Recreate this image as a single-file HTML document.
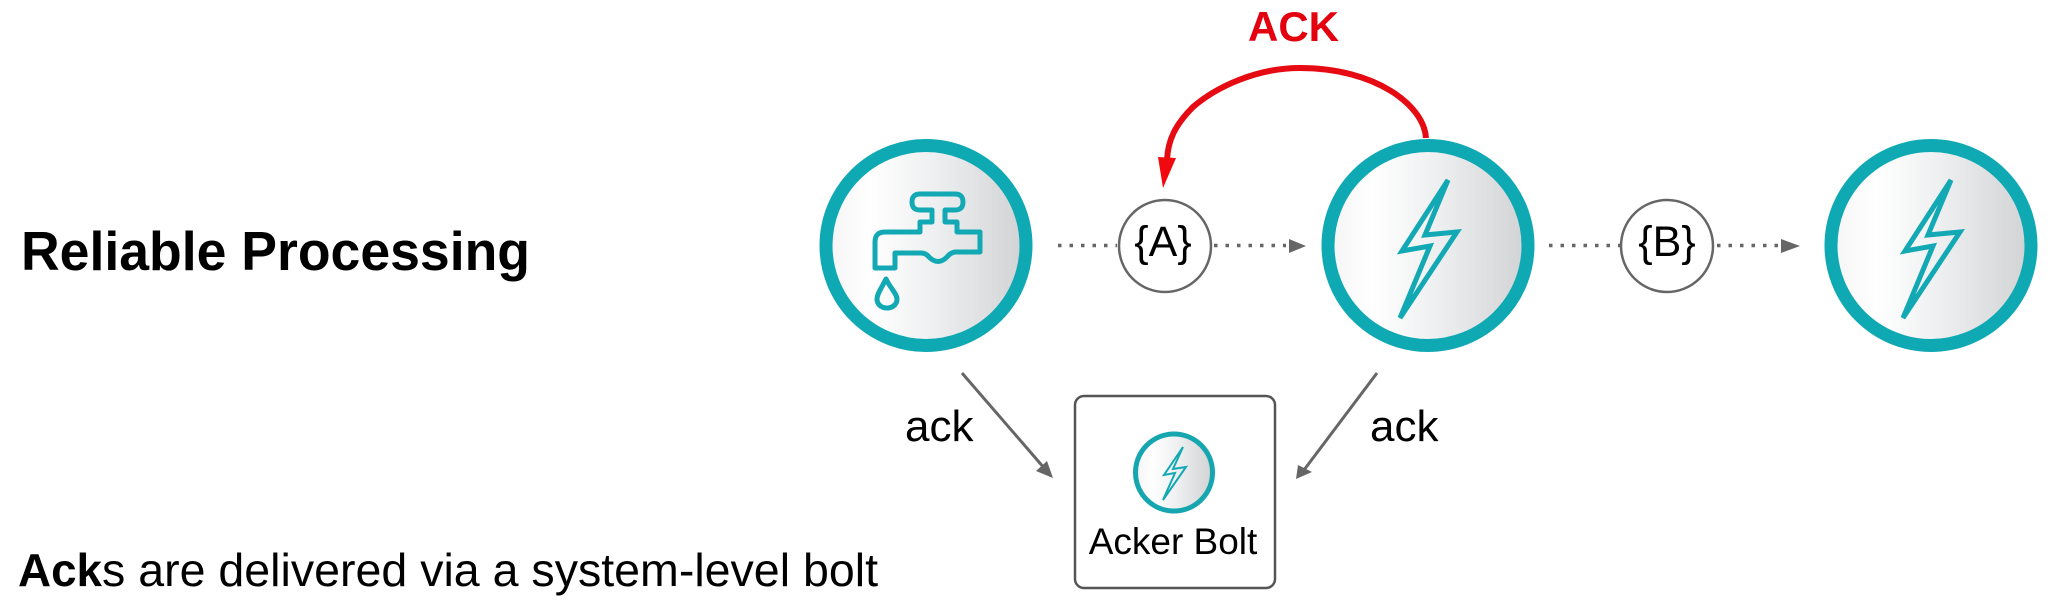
<!DOCTYPE html>
<html><head><meta charset="utf-8">
<style>
html,body{margin:0;padding:0;background:#fff;width:2048px;height:612px;overflow:hidden}
svg{display:block}
text{font-family:"Liberation Sans",sans-serif;fill:#000}
</style></head>
<body>
<svg width="2048" height="612" viewBox="0 0 2048 612" xmlns="http://www.w3.org/2000/svg">
<defs>
<linearGradient id="g" x1="0" y1="0" x2="1" y2="0">
<stop offset="0" stop-color="#f4f4f5"/><stop offset=".22" stop-color="#ffffff"/><stop offset=".55" stop-color="#eeeff0"/><stop offset="1" stop-color="#d0d2d4"/>
</linearGradient>
<g id="bolt"><path d="M20-65.5L-26 5.5L2 .5L-28 72.5L29-13.5L-3-10.5Z" fill="none" stroke="#12a9b5" stroke-width="5" stroke-linejoin="miter" stroke-miterlimit="3"/></g>
<g id="node"><circle r="99.5" fill="url(#g)" stroke="#777" stroke-width="1.5"/><circle r="100" fill="none" stroke="#0fa9b4" stroke-width="13"/></g>
</defs>
<rect width="2048" height="612" fill="#fff"/>

<text x="21" y="270" font-size="55" font-weight="700" textLength="509" lengthAdjust="spacingAndGlyphs">Reliable Processing</text>
<text x="18" y="586" font-size="46" font-weight="700" textLength="84" lengthAdjust="spacingAndGlyphs">Ack</text>
<text x="102" y="586" font-size="46" textLength="776" lengthAdjust="spacingAndGlyphs">s are delivered via a system-level bolt</text>

<g transform="translate(926 245.5)"><use href="#node"/></g>
<g fill="none" stroke="#12a9b5" stroke-width="5" stroke-linejoin="round">
<path d="M920 232V222H932V210H920Q912 210 912 202Q912 194 920 194H955Q963 194 963 202Q963 210 955 210H945V222H957V232H980V252H955Q950 253 947 257Q938 266 929 257Q926 253 921 253H895V268H875V242Q875 232 885 232Z"/>
<path d="M886 279C881 289 877 294 877 299C877 304 881 308 887 308C893 308 897 304 897 299C897 294 891 289 886 279Z"/>
</g>

<g transform="translate(1428 245.5)"><use href="#node"/><use href="#bolt"/></g>
<g transform="translate(1931 245.5)"><use href="#node"/><use href="#bolt"/></g>

<circle cx="1165" cy="246" r="46" fill="#fff" stroke="#666" stroke-width="2.5"/>
<text x="1163" y="256" font-size="43" text-anchor="middle">{A}</text>
<circle cx="1667" cy="246" r="46" fill="#fff" stroke="#666" stroke-width="2.5"/>
<text x="1667" y="256" font-size="43" text-anchor="middle">{B}</text>

<g stroke="#666" stroke-width="3.5" stroke-dasharray="3.5 8" fill="none">
<path d="M1058 245.5H1117"/><path d="M1214 245.5H1286"/>
<path d="M1549 245.5H1620"/><path d="M1717 245.5H1779"/>
</g>
<path d="M1289 239L1306 246L1289 253Z" fill="#666"/>
<path d="M1781 239L1800 246L1781 253Z" fill="#666"/>

<path d="M1426 138C1424 105 1375 68 1300 68C1255 68 1215 88 1193 107C1175 125 1168 140 1167 160" fill="none" stroke="#e60a12" stroke-width="6"/>
<path d="M1158 157L1176 158L1163 188Z" fill="#f00a0f"/>
<text x="1248" y="41" font-size="42" font-weight="700" style="fill:#e3000f" textLength="91" lengthAdjust="spacingAndGlyphs">ACK</text>

<path d="M962 373L1045 469" stroke="#666" stroke-width="3" fill="none"/>
<path d="M1053 478L1036 471L1047 461Z" fill="#666"/>
<path d="M1377 373L1304 470" stroke="#666" stroke-width="3" fill="none"/>
<path d="M1296 479L1298 465L1312 472Z" fill="#666"/>
<text x="905" y="441" font-size="44">ack</text>
<text x="1370" y="441" font-size="44">ack</text>

<rect x="1075" y="396" width="200" height="192" rx="9" fill="#fff" stroke="#555" stroke-width="2.5"/>
<circle cx="1174" cy="472.5" r="38.5" fill="url(#g)" stroke="#15a6b0" stroke-width="5"/>
<path d="M1183 447L1164 475L1175 473L1163 500L1186 467L1173 469Z" fill="none" stroke="#12a9b5" stroke-width="2"/>
<text x="1173" y="554" font-size="37" text-anchor="middle">Acker Bolt</text>
</svg>
</body></html>
